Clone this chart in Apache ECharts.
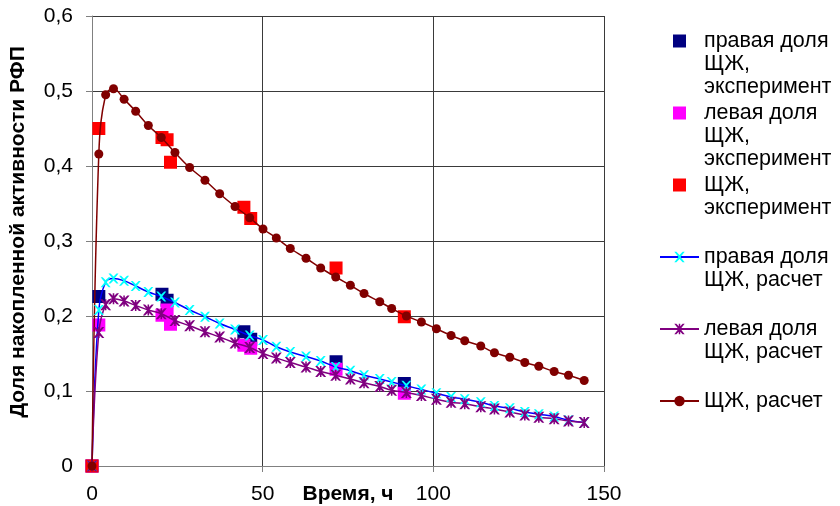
<!DOCTYPE html>
<html>
<head>
<meta charset="utf-8">
<script src="https://cdn.jsdelivr.net/npm/echarts@6/dist/echarts.min.js"></script>
<style>
  html, body { margin: 0; padding: 0; background: #fff; }
  #main { width: 840px; height: 506px; }
</style>
</head>
<body>
<div id="main"></div>
<script>
// время, ч
const tExp = [0, 2, 20.5, 22, 23, 44.5, 46.5, 71.5, 91.5]
const tExpRight = [0, 2, 20.5, 22, 44.5, 46.5, 71.5, 91.5]
const tCalc = [0, 2, 4, 6.3, 9.4, 12.8, 16.5, 20.3, 24.3, 28.6, 33.1, 37.4, 41.9, 46.2, 50.1, 54, 58.1,
  62.7, 67, 71.4, 75.7, 79.7, 84.3, 87.8, 92.1, 96.5, 100.9, 105.2, 109.2, 113.9, 117.9, 122.4,
  126.8, 130.9, 135.4, 139.6, 144.2]

// эксперимент
const expRight = [0, 0.226, 0.229, 0.221, 0.179, 0.169, 0.139, 0.110]
const expLeft = [0, 0.188, 0.201, 0.208, 0.189, 0.161, 0.157, 0.129, 0.097]
const expTotal = [0, 0.450, 0.438, 0.435, 0.405, 0.345, 0.330, 0.264, 0.199]

// расчет
const calcRight = [0, 0.208, 0.245, 0.250, 0.247, 0.240, 0.232, 0.226, 0.218, 0.208, 0.199, 0.190,
  0.182, 0.174, 0.168, 0.159, 0.152, 0.146, 0.140, 0.132, 0.127, 0.121, 0.116, 0.112, 0.107, 0.102,
  0.097, 0.092, 0.089, 0.085, 0.080, 0.077, 0.072, 0.069, 0.066, 0.061, 0.058]
const calcLeft = [0, 0.178, 0.215, 0.223, 0.220, 0.214, 0.208, 0.203, 0.194, 0.187, 0.179, 0.172,
  0.164, 0.158, 0.150, 0.144, 0.138, 0.132, 0.126, 0.121, 0.116, 0.111, 0.106, 0.101, 0.098, 0.094,
  0.089, 0.085, 0.083, 0.079, 0.076, 0.072, 0.068, 0.065, 0.063, 0.060, 0.058]
const calcTotal = [0, 0.416, 0.495, 0.503, 0.489, 0.473, 0.454, 0.438, 0.418, 0.398, 0.381, 0.363,
  0.346, 0.331, 0.316, 0.304, 0.290, 0.277, 0.264, 0.252, 0.241, 0.230, 0.219, 0.210, 0.200, 0.192,
  0.183, 0.174, 0.167, 0.160, 0.151, 0.145, 0.138, 0.133, 0.126, 0.121, 0.114]

const names = [
  'правая доля\nЩЖ,\nэксперимент',
  'левая доля\nЩЖ,\nэксперимент',
  'ЩЖ,\nэксперимент',
  'правая доля\nЩЖ, расчет',
  'левая доля\nЩЖ, расчет',
  'ЩЖ, расчет'
]

const FONT = 'Liberation Sans, Arial, sans-serif'
const LH = 23

// значки маркеров Excel
const squarePath = 'path://M0,0 L10,0 L10,10 L0,10 Z'
const crossPath = 'path://M0,0 L2,0 L5,3 L8,0 L10,0 L6,5 L10,10 L8,10 L5,7 L2,10 L0,10 L4,5 Z'
const starPath = 'path://M0,0 L2,0 L5,3 L8,0 L10,0 L6,5 L10,10 L8,10 L5,7 L2,10 L0,10 L4,5 Z M4.3,0 L5.7,0 L5.7,10 L4.3,10 Z'

function pairs (xs, ys) {
  return xs.map((x, i) => [x, ys[i]])
}

// первая строка подписи легенды — на уровне значка (всего 5 строк, первая строка — средняя)
function legendText (name) {
  const n = name.split('\n').length
  return '\n\n' + name + '\n'.repeat(3 - n)
}

const chart = echarts.init(document.getElementById('main'))
chart.setOption({
  backgroundColor: '#fff',
  animation: false,
  textStyle: { fontFamily: FONT },
  grid: { left: 92, right: 236, top: 16, bottom: 40, outerBoundsMode: 'none', containLabel: false },
  legend: {
    orient: 'vertical',
    left: 659,
    top: -16.5,
    padding: 0,
    itemWidth: 39,
    itemHeight: 13,
    itemGap: -43,
    selectedMode: false,
    formatter: legendText,
    textStyle: { fontFamily: FONT, fontSize: 21.5, color: '#000', lineHeight: LH },
    data: names
  },
  xAxis: {
    type: 'value',
    min: 0,
    max: 150,
    interval: 50,
    name: 'Время, ч',
    nameLocation: 'middle',
    nameGap: 18,
    nameMoveOverlap: false,
    nameTextStyle: { fontFamily: FONT, fontSize: 21, fontWeight: 'bold', color: '#000' },
    axisLine: { lineStyle: { color: '#808080', width: 1 } },
    axisTick: { show: true, length: 6, lineStyle: { color: '#808080' } },
    axisLabel: { fontSize: 21, color: '#000', margin: 18 },
    splitLine: { show: true, lineStyle: { color: '#3a3a3a', width: 1 } }
  },
  yAxis: {
    type: 'value',
    min: 0,
    max: 0.6,
    interval: 0.1,
    name: 'Доля накопленной активности РФП',
    nameLocation: 'middle',
    nameGap: 63,
    nameMoveOverlap: false,
    nameTextStyle: { fontFamily: FONT, fontSize: 21, fontWeight: 'bold', color: '#000', padding: [0, 0, 0, 18] },
    axisLine: { show: true, lineStyle: { color: '#808080', width: 1 } },
    axisTick: { show: true, length: 6, lineStyle: { color: '#808080' } },
    axisLabel: {
      fontSize: 21,
      color: '#000',
      margin: 19,
      formatter: v => v === 0 ? '0' : v.toFixed(1).replace('.', ',')
    },
    splitLine: { show: true, lineStyle: { color: '#3a3a3a', width: 1 } }
  },
  series: [{
    name: names[0],
    type: 'scatter',
    symbol: squarePath,
    symbolSize: 13,
    itemStyle: { color: '#000080', opacity: 1 },
    data: pairs(tExpRight, expRight)
  }, {
    name: names[1],
    type: 'scatter',
    symbol: squarePath,
    symbolSize: 13,
    itemStyle: { color: '#ff00ff', opacity: 1 },
    data: pairs(tExp, expLeft)
  }, {
    name: names[2],
    type: 'scatter',
    symbol: squarePath,
    symbolSize: 13,
    itemStyle: { color: '#ff0000', opacity: 1 },
    data: pairs(tExp, expTotal)
  }, {
    name: names[3],
    type: 'line',
    smooth: 0.4,
    symbol: crossPath,
    symbolSize: 10,
    showAllSymbol: true,
    lineStyle: { color: '#0000ff', width: 1.5 },
    itemStyle: { color: '#00ffff' },
    data: pairs(tCalc, calcRight)
  }, {
    name: names[4],
    type: 'line',
    smooth: 0.4,
    symbol: starPath,
    symbolSize: 11,
    showAllSymbol: true,
    lineStyle: { color: '#800080', width: 1.5 },
    itemStyle: { color: '#800080' },
    data: pairs(tCalc, calcLeft)
  }, {
    name: names[5],
    type: 'line',
    smooth: 0.4,
    symbol: 'circle',
    symbolSize: 9,
    showAllSymbol: true,
    lineStyle: { color: '#800000', width: 1.5 },
    itemStyle: { color: '#800000' },
    data: pairs(tCalc, calcTotal)
  }]
})
</script>
</body>
</html>
